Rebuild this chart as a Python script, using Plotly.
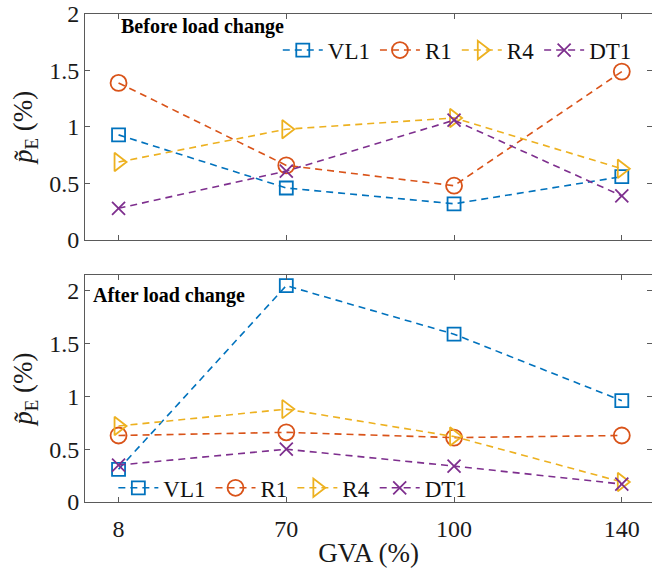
import plotly.graph_objects as go

categories = ["8", "70", "100", "140"]
series_names = ["VL1", "R1", "R4", "DT1"]

before_VL1 = [0.93, 0.46, 0.32, 0.56]
before_R1 = [1.39, 0.66, 0.48, 1.49]
before_R4 = [0.69, 0.98, 1.08, 0.63]
before_DT1 = [0.28, 0.61, 1.06, 0.39]

after_VL1 = [0.31, 2.05, 1.59, 0.96]
after_R1 = [0.63, 0.66, 0.61, 0.63]
after_R4 = [0.72, 0.88, 0.62, 0.19]
after_DT1 = [0.35, 0.50, 0.34, 0.17]

colors = ["#0072BD", "#D95319", "#EDB120", "#7E2F8E"]
symbols = ["square-open", "circle-open", "triangle-right-open", "x-thin-open"]
sizes = [13, 16, 16, 13]

before = [before_VL1, before_R1, before_R4, before_DT1]
after = [after_VL1, after_R1, after_R4, after_DT1]

FONT = "Liberation Serif"
AXC = "#5a5a5a"
TXT = "#1a1a1a"

fig = go.Figure()
for i, name in enumerate(series_names):
    fig.add_trace(go.Scatter(
        x=categories, y=before[i], name=name, mode="lines+markers",
        line=dict(color=colors[i], width=1.6, dash="7px,5px"),
        marker=dict(symbol=symbols[i], size=sizes[i], color=colors[i],
                    line=dict(color=colors[i], width=1.8)),
        xaxis="x", yaxis="y", legend="legend"))
for i, name in enumerate(series_names):
    fig.add_trace(go.Scatter(
        x=categories, y=after[i], name=name, mode="lines+markers",
        line=dict(color=colors[i], width=1.6, dash="7px,5px"),
        marker=dict(symbol=symbols[i], size=sizes[i], color=colors[i],
                    line=dict(color=colors[i], width=1.8)),
        xaxis="x2", yaxis="y2", legend="legend2"))

axis_common = dict(showline=True, linecolor=AXC, linewidth=1, mirror="ticks",
                   ticks="inside", ticklen=5, tickcolor=AXC, showgrid=False,
                   zeroline=False, tickfont=dict(family=FONT, size=24, color=TXT))

ytitle = "<i>p̃</i><sub>E</sub> (%)"

fig.update_layout(
    width=652, height=571,
    margin=dict(l=85, r=0, t=14, b=69),
    paper_bgcolor="white", plot_bgcolor="white",
    font=dict(family=FONT, color=TXT),
    xaxis=dict(axis_common, type="category", range=[-0.2, 3.18], anchor="y",
               showticklabels=False),
    yaxis=dict(axis_common, range=[0, 2], domain=[0.537, 1.0], anchor="x",
               tickvals=[0, 0.5, 1, 1.5, 2], ticktext=["0", "0.5", "1", "1.5", "2"],
               title=dict(text=ytitle, font=dict(family=FONT, size=27, color=TXT), standoff=8)),
    xaxis2=dict(axis_common, type="category", range=[-0.2, 3.18], anchor="y2",
                ticklabelstandoff=5,
                title=dict(text="GVA (%)", font=dict(family=FONT, size=27, color=TXT), standoff=2)),
    yaxis2=dict(axis_common, range=[0, 2.15], domain=[0.0, 0.465], anchor="x2",
                tickvals=[0, 0.5, 1, 1.5, 2], ticktext=["0", "0.5", "1", "1.5", "2"],
                title=dict(text=ytitle, font=dict(family=FONT, size=27, color=TXT), standoff=8)),
    legend=dict(orientation="h", x=0.34, y=0.926, xanchor="left", yanchor="middle",
                bgcolor="rgba(0,0,0,0)", font=dict(family=FONT, size=23, color="#111"),
                itemwidth=40, tracegroupgap=0),
    legend2=dict(orientation="h", x=0.05, y=0.029, xanchor="left", yanchor="middle",
                 bgcolor="rgba(0,0,0,0)", font=dict(family=FONT, size=23, color="#111"),
                 itemwidth=40, tracegroupgap=0),
    showlegend=True,
    annotations=[
        dict(text="<b>Before load change</b>", xref="paper", yref="paper",
             x=(119 - 85) / 567, y=(502 - 26) / 488, xanchor="left", yanchor="middle",
             showarrow=False, font=dict(family=FONT, size=20, color="black")),
        dict(text="<b>After load change</b>", xref="paper", yref="paper",
             x=(91 - 85) / 567, y=(502 - 296) / 488, xanchor="left", yanchor="middle",
             showarrow=False, font=dict(family=FONT, size=20, color="black")),
    ],
)

fig.write_html("out.html")
